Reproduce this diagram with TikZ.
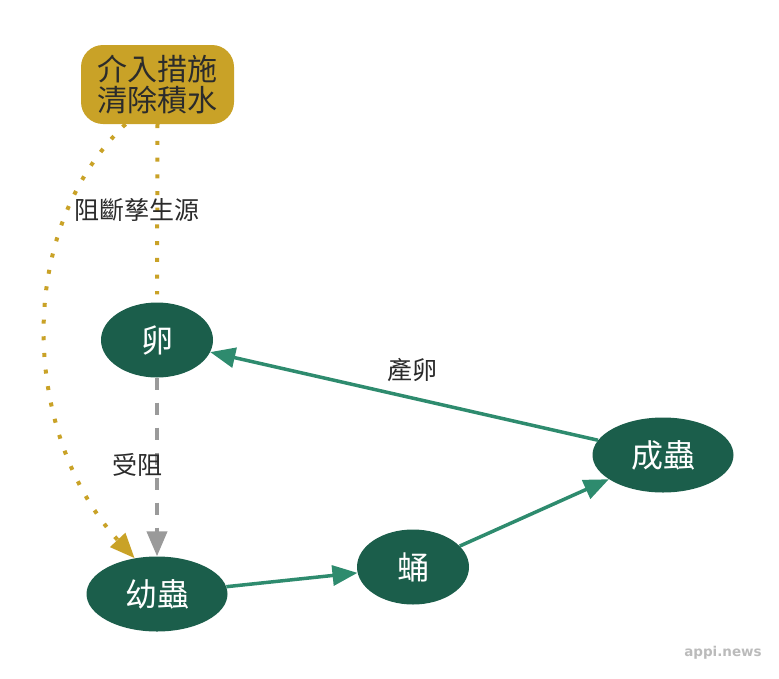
\documentclass[tikz,border=0pt]{standalone}
\usepackage{fontspec}
\newfontfamily\cjk{Noto Sans CJK TC}
\newfontfamily\wmfont{DejaVu Sans}
\usetikzlibrary{shapes.geometric,arrows.meta,calc}
\definecolor{nodegreen}{HTML}{1B5E4B}
\definecolor{edgegreen}{HTML}{2E8B6E}
\definecolor{gold}{HTML}{C9A227}
\definecolor{textdark}{HTML}{2B2B2B}
\definecolor{grayline}{HTML}{9A9A9A}
\definecolor{wmgray}{HTML}{BBBBBB}
\tikzset{
  stage/.style={ellipse, fill=nodegreen, text=white, inner sep=0pt,
    minimum height=75pt, font=\cjk\fontsize{32}{36}\selectfont},
  ctrlbox/.style={rectangle, rounded corners=22pt, fill=gold, text=textdark,
    minimum width=153pt, minimum height=79pt, inner sep=0pt, align=center,
    font=\cjk\fontsize{30}{31}\selectfont},
  lbl/.style={text=textdark, font=\cjk\fontsize{25}{28}\selectfont, inner sep=0pt},
  tip/.style={-{Triangle[length=25pt,width=20pt]}},
  flow/.style={tip, draw=edgegreen, line width=3.5pt},
  blocked/.style={tip, draw=grayline, line width=4pt, dash pattern=on 12pt off 13pt},
  dotline/.style={draw=gold, line width=4pt, dash pattern=on 4pt off 12.7pt}
}
\begin{document}
\begin{tikzpicture}[x=1pt,y=-1pt]
\useasboundingbox (0,0) rectangle (779,678);
\node[ctrlbox] (ctrl) at (157.5,84.5) {介入措施\\清除積水};
\node[stage, minimum width=112pt] (egg) at (157,340) {卵};
\node[stage, minimum width=141pt] (larva) at (157,594) {幼蟲};
\node[stage, minimum width=112pt] (pupa) at (413,567) {蛹};
\node[stage, minimum width=141pt] (adult) at (663,455) {成蟲};

\draw[blocked] (egg) -- (larva);
\draw[flow] (larva) -- (pupa);
\draw[flow] (pupa) -- (adult);
\draw[flow] (adult) -- (egg);
\draw[dotline, shorten >=8pt] (ctrl.south) -- (egg.north);
\draw[dotline, tip]
  ($(ctrl.south)+(-32,0)$) .. controls (10,235) and (25,440) .. (larva.122);

\node[lbl] (lblsrc) at (137,210) {阻斷孳生源};
\node[lbl] (lblblk) at (137,465) {受阻};
\node[lbl] (lbllay) at (412,370) {產卵};
\node[text=wmgray, font=\wmfont\bfseries\fontsize{13.5}{16}\selectfont, inner sep=0pt] (wm) at (723,653) {appi.news};
\end{tikzpicture}
\end{document}
